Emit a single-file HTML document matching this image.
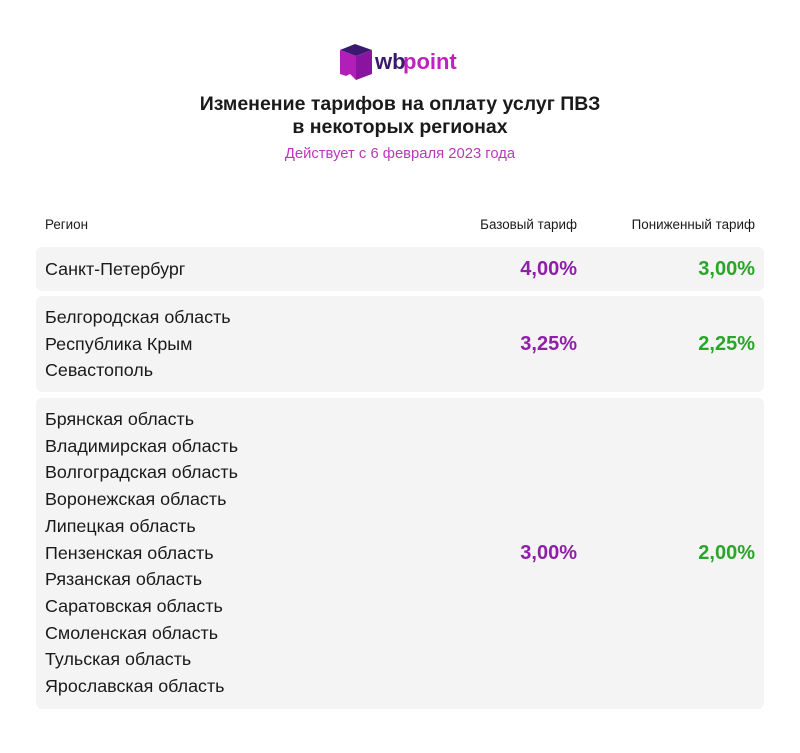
<!DOCTYPE html>
<html><head><meta charset="utf-8"><style>
body{margin:0;width:800px;height:753px;background:#fff;font-family:"Liberation Sans","DejaVu Sans",sans-serif;color:#1a1a1a;position:relative;overflow:hidden}
.a{position:absolute}
.row{position:absolute;left:36px;width:728px;background:#f4f4f4;border-radius:6px}
.reg{position:absolute;left:45px;font-size:17.9px;line-height:26.7px}
.p{position:absolute;font-size:20px;font-weight:bold;text-align:right}
.b{right:223px;color:#8e1fa6}
.l{right:45px;color:#2aa52a}
.h{font-size:13.4px;top:217px}
</style></head><body>
<div class="a" style="left:338px;top:42px;width:130px;height:40px">
<svg width="130" height="40" viewBox="0 0 130 40">
<polygon points="2,8 17,2 34,8 18,14" fill="#3a1a6e"/>
<polygon points="2,8 18,14 18,38 12,32 8,34 2,32" fill="#b21fb8"/>
<polygon points="18,14 34,8 34,32 18,38" fill="#8a14a0"/>
<text x="37" y="27" font-size="22" font-weight="bold" fill="#3a1a6e" font-family="Liberation Sans,sans-serif">wb</text>
<text x="65" y="27" font-size="22" font-weight="bold" fill="#c21fc0" font-family="Liberation Sans,sans-serif">point</text>
</svg></div>
<div class="a" style="left:0;width:800px;top:93px;text-align:center;font-size:19.5px;font-weight:bold;line-height:23px">Изменение тарифов на оплату услуг ПВЗ<br>в некоторых регионах</div>
<div class="a" style="left:0;width:800px;top:146px;text-align:center;font-size:14.8px;color:#b83ab8">Действует с 6 февраля 2023 года</div>
<div class="a h" style="left:45px">Регион</div>
<div class="a h" style="right:223px">Базовый тариф</div>
<div class="a h" style="right:45px">Пониженный тариф</div>

<div class="row" style="top:247px;height:44px"></div>
<div class="reg" style="top:256px">Санкт-Петербург</div>
<div class="p b" style="top:258px">4,00%</div>
<div class="p l" style="top:258px">3,00%</div>

<div class="row" style="top:296px;height:96px"></div>
<div class="reg" style="top:304px">Белгородская область<br>Республика Крым<br>Севастополь</div>
<div class="p b" style="top:333px">3,25%</div>
<div class="p l" style="top:333px">2,25%</div>

<div class="row" style="top:398px;height:311px"></div>
<div class="reg" style="top:406px">Брянская область<br>Владимирская область<br>Волгоградская область<br>Воронежская область<br>Липецкая область<br>Пензенская область<br>Рязанская область<br>Саратовская область<br>Смоленская область<br>Тульская область<br>Ярославская область</div>
<div class="p b" style="top:542px">3,00%</div>
<div class="p l" style="top:542px">2,00%</div>
</body></html>
